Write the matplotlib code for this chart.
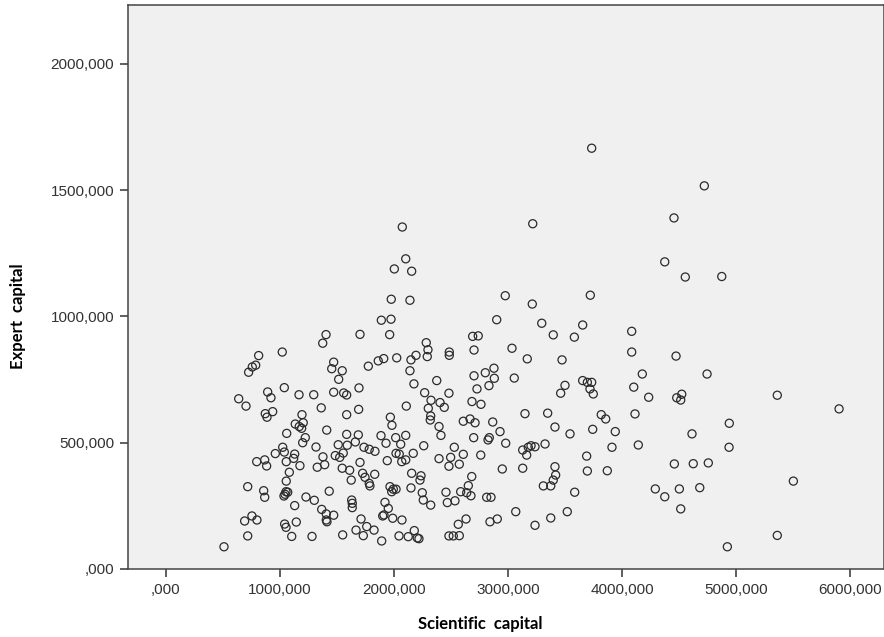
import matplotlib.pyplot as plt

# values (SPSS scatter, units as on the axes)
scientific_capital = [
    2073, 2103, 2003, 2155, 1976, 2140, 3217, 2976, 3213,
    3734, 4722, 4456, 4375, 4555, 4875, 3722,
    1404, 1702, 1375, 813, 1020, 787, 757, 725, 1471, 1454, 1546, 1515, 892, 921,
    1038, 1167, 1296, 1471, 1559, 1585, 1693, 638, 702, 1362, 1690, 1585, 871, 886,
    936, 1193, 1134, 1169, 1204, 1190, 1410, 1059, 1222, 1585, 1687,
    1199, 1024, 1316, 1511, 1590, 1661, 959, 1038, 1129, 796, 866, 883, 1055, 1120,
    1175, 1377, 1392, 1327, 1485, 1524, 1555, 1546, 1611, 1702, 1082, 1055, 1625, 717,
    857, 866, 1044, 1068, 1053, 1035, 1432, 1228, 1301, 1129, 1629, 1634, 1634, 1366,
    1406, 1471, 1406, 1412, 1711, 690, 754, 798, 1041, 1053, 1143, 1667, 717, 1103,
    1281, 1550, 509,
    1737, 1783, 1833, 1930, 2059, 2261, 2018, 2046, 2169, 2068, 2103, 1941, 2395, 2529,
    2497, 2608, 2573, 2482, 2980, 2761, 2950, 2682, 2652, 2585, 2638, 2675, 2813, 2851,
    2456, 2468, 2535, 2155, 2237, 2228, 2149, 2248, 2257, 2322, 1965, 1994, 2018, 1980,
    1725, 1831, 1746, 1783, 1789, 1921, 1950, 1901, 1912, 1989, 2070, 1761, 1825, 1731,
    1892, 2044, 2125, 2178, 2204, 2219, 2482, 2520, 2573, 2564, 2632, 2842, 2906,
    1889, 1974, 2901, 1962, 2283, 2298, 2292, 2485, 2485, 2690, 2739, 2702, 3035, 1775,
    1862, 1910, 2024, 2149, 2193, 2140, 2375, 2175, 2702, 2801, 2877, 2880, 2833, 2728,
    2269, 2482, 2325, 2404, 2441, 2301, 2108, 2684, 2763, 2322, 2318, 1968, 1982, 2395,
    2412, 2608, 2667, 2711, 2866, 2930, 1886, 2015, 2103, 2699, 2836, 2825,
    3296, 3655, 3397, 3582, 4085, 3169, 3474, 4085, 3055, 3500, 3462, 3655, 3696, 3734,
    3719, 3748, 4178, 4103, 4234, 3149, 3348, 3412, 3544, 3818, 3857, 3743, 3941, 4114,
    3129, 3178, 3202, 3237, 3164, 3325, 3129, 3412, 3418, 3397, 3310, 3375, 3585, 3690,
    3912, 4143, 3696, 3871, 4292, 3068, 3375, 3520, 3237,
    4474, 4746, 4524, 4480, 4515, 5362, 4941, 4614,
    4939, 4459, 4625, 4757, 4375, 4503, 4682, 4515, 5503, 5362, 4924, 5904,
]
expert_capital = [
    1354, 1228, 1188, 1179, 1068, 1064, 1367, 1082, 1049,
    1666, 1517, 1390, 1216, 1156, 1158, 1084,
    928, 929, 894, 845, 859, 807, 800, 779, 819, 793, 785, 751, 701, 678,
    718, 690, 690, 700, 697, 689, 717, 674, 645, 638, 632, 611, 615, 601,
    623, 611, 574, 564, 579, 557, 550, 537, 520, 533, 531,
    500, 482, 483, 492, 490, 503, 457, 463, 455, 425, 432, 408, 425, 438,
    409, 444, 413, 403, 449, 442, 459, 399, 391, 422, 383, 348, 352, 326,
    310, 284, 296, 304, 306, 289, 308, 285, 272, 251, 273, 260, 243, 236,
    218, 213, 194, 187, 198, 190, 210, 194, 178, 165, 186, 154, 131, 129,
    129, 135, 88,
    482, 474, 466, 498, 494, 488, 458, 455, 458, 425, 432, 429, 437, 482,
    442, 454, 415, 407, 498, 451, 396, 366, 330, 306, 302, 290, 284, 284,
    304, 263, 270, 379, 369, 352, 321, 302, 273, 253, 326, 316, 316, 306,
    379, 375, 363, 339, 329, 264, 240, 210, 214, 201, 194, 168, 154, 132,
    111, 131, 128, 152, 123, 120, 131, 131, 132, 177, 198, 187, 198,
    985, 989, 987, 928, 896, 868, 841, 859, 846, 921, 923, 867, 874, 803,
    824, 833, 836, 828, 846, 785, 746, 733, 765, 777, 795, 755, 726, 713,
    698, 696, 668, 659, 640, 636, 645, 663, 652, 606, 590, 601, 569, 564,
    529, 585, 594, 579, 582, 544, 528, 520, 529, 520, 520, 511,
    973, 966, 927, 918, 941, 832, 828, 859, 756, 727, 696, 746, 739, 739,
    713, 693, 772, 720, 680, 615, 617, 562, 535, 611, 594, 553, 544, 614,
    471, 482, 488, 484, 451, 495, 399, 405, 372, 352, 329, 329, 304, 447,
    482, 491, 388, 389, 317, 227, 202, 227, 173,
    843, 772, 692, 678, 669, 688, 577, 535,
    482, 416, 417, 420, 286, 317, 322, 238, 348, 133, 88, 634,
]

x_ticks = [0, 1000, 2000, 3000, 4000, 5000, 6000]
y_ticks = [0, 500, 1000, 1500, 2000]


def spss_label(v):
    # SPSS style: decimal comma, three decimals, no leading zero
    s = f"{v:.3f}".replace('.', ',')
    return s[1:] if s.startswith('0,') else s


fig = plt.figure(figsize=(8.84, 6.37), dpi=100)
ax = fig.add_axes([128 / 884, 68 / 637, 756 / 884, 564 / 637])
ax.set_facecolor('#f0f0f0')

ax.scatter(scientific_capital, expert_capital, s=34, facecolors='none',
           edgecolors='#2b2b2b', linewidths=0.9, zorder=3)

ax.set_xlim(-333, 6298)
ax.set_ylim(0, 2233)
ax.set_xticks(x_ticks)
ax.set_yticks(y_ticks)
ax.set_xticklabels([spss_label(v) for v in x_ticks])
ax.set_yticklabels([spss_label(v) for v in y_ticks])

for lab in ax.get_xticklabels() + ax.get_yticklabels():
    lab.set_fontfamily('Liberation Sans')
    lab.set_fontsize(11)
    lab.set_color('#333333')

ax.tick_params(axis='both', direction='out', length=6, width=1.2, color='#444444', pad=4)
for sp in ax.spines.values():
    sp.set_color('#444444')
    sp.set_linewidth(1.1)

ax.set_xlabel('Scientific  capital', fontfamily='Lato', fontweight='bold', fontsize=12)
ax.set_ylabel('Expert  capital', fontfamily='Lato', fontweight='bold', fontsize=12)
ax.xaxis.set_label_coords(0.466, -0.083)
ax.yaxis.set_label_coords(-0.135, 0.449)

fig.savefig('out.png', dpi=100)
